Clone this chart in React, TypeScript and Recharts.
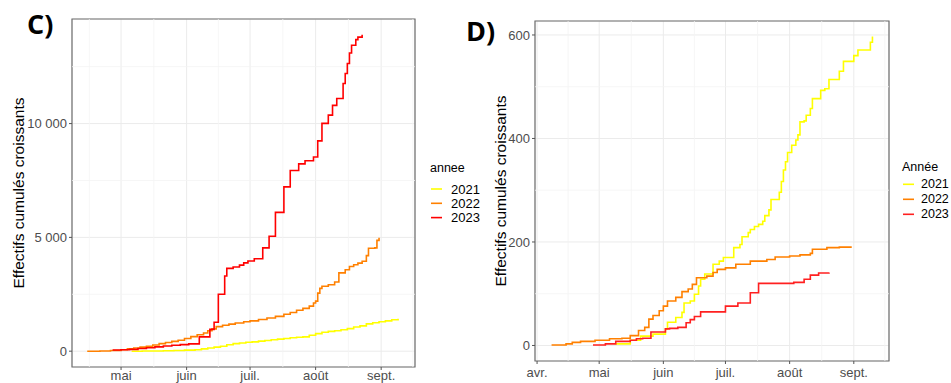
import React from "react";
import {
  LineChart,
  Line,
  XAxis,
  YAxis,
  CartesianGrid,
  ReferenceLine,
  ReferenceArea,
  Label,
} from "recharts";

// days counted from 1 April
const monthTicks = [0, 30, 61, 91, 122, 153];
const monthLabels = ["avr.", "mai", "juin", "juil.", "août", "sept."];
const monthMinor = [15, 45.5, 76, 106.5, 137.5, 168];

const years = ["2021", "2022", "2023"];
const yearColorsC = ["#FFFF00", "#FF8000", "#FF0000"];
const yearColorsD = ["#FFFF00", "#FF8000", "#FF2020"];

// panel C
const c2021Days = [35, 40, 45, 50, 55, 60, 65, 68, 71, 74, 77, 80, 83, 86, 89, 92, 95, 98, 101, 104, 107, 110, 113, 116, 119, 122, 125, 128, 131, 134, 137, 140, 143, 146, 149, 152, 155, 158, 161];
const c2021Counts = [0, 5, 10, 20, 30, 45, 65, 100, 140, 180, 220, 280, 330, 360, 390, 410, 440, 470, 500, 530, 560, 590, 610, 630, 700, 770, 830, 870, 900, 940, 990, 1060, 1110, 1200, 1250, 1290, 1330, 1380, 1430];

const c2022Days = [14, 20, 25, 30, 33, 36, 39, 42, 45, 48, 51, 54, 57, 60, 63, 66, 69, 71, 73, 75, 78, 81, 84, 88, 91, 95, 99, 103, 107, 110, 113, 116, 119, 121, 122, 123, 124, 125, 128, 131, 133, 136, 138, 140, 142, 144, 146, 147, 150, 151, 152];
const c2022Counts = [0, 10, 30, 60, 100, 140, 180, 220, 270, 330, 380, 430, 480, 560, 640, 720, 800, 900, 980, 1080, 1140, 1190, 1240, 1290, 1330, 1390, 1460, 1530, 1620, 1700, 1800, 1880, 1980, 2120, 2200, 2550, 2760, 2850, 2920, 3040, 3440, 3580, 3720, 3800, 3870, 3950, 4200, 4520, 4540, 4870, 4980];

const c2023Days = [26, 30, 34, 38, 42, 46, 50, 54, 58, 62, 67, 72, 74, 76, 79, 80, 83, 86, 88, 90, 93, 97, 100, 103, 107, 110, 114, 117, 121, 123, 125, 128, 130, 132, 135, 136, 137, 138, 139, 141, 142, 144];
const c2023Counts = [50, 60, 80, 120, 150, 190, 230, 260, 290, 320, 630, 960, 1270, 2500, 3300, 3640, 3700, 3780, 3880, 3960, 4060, 4540, 5050, 6100, 7220, 7940, 8230, 8370, 8530, 9240, 10010, 10370, 10800, 11100, 11760, 12200, 12640, 13100, 13440, 13690, 13800, 13900];

// panel D
const d2021Days = [38, 45, 50, 56, 62, 63, 67, 70, 71, 74, 76, 78, 79, 81, 85, 88, 90, 95, 98, 99, 102, 103, 105, 107, 109, 110, 112, 113, 117, 118, 119, 120, 121, 123, 125, 126, 127, 129, 130, 132, 133, 137, 139, 141, 146, 148, 153, 155, 161, 162];
const d2021Counts = [3, 10, 18, 22, 32, 45, 54, 64, 82, 86, 99, 115, 128, 138, 157, 163, 170, 189, 195, 210, 218, 224, 230, 234, 240, 251, 262, 282, 296, 317, 339, 355, 373, 387, 397, 407, 432, 434, 445, 458, 477, 493, 496, 514, 530, 549, 560, 571, 586, 597];

const d2022Days = [7, 14, 17, 21, 28, 35, 41, 45, 49, 52, 54, 56, 59, 61, 63, 67, 70, 73, 75, 77, 82, 85, 87, 91, 96, 103, 111, 115, 122, 127, 132, 133, 140, 146, 152];
const d2022Counts = [1, 3, 6, 8, 10, 13, 14, 19, 29, 35, 51, 58, 67, 76, 86, 93, 104, 109, 118, 131, 134, 141, 147, 150, 157, 163, 166, 171, 173, 175, 178, 186, 189, 190, 190];

const d2023Days = [27, 33, 38, 45, 48, 51, 55, 62, 64, 68, 72, 74, 76, 79, 91, 97, 103, 107, 124, 129, 132, 136, 141];
const d2023Counts = [1, 3, 8, 10, 13, 14, 26, 32, 33, 35, 44, 50, 56, 65, 76, 82, 102, 120, 122, 128, 136, 140, 141];

const toRows = (days: number[], counts: number[]) =>
  days.map((d, i) => ({ d, v: counts[i] }));

const panelC = [
  toRows(c2021Days, c2021Counts),
  toRows(c2022Days, c2022Counts),
  toRows(c2023Days, c2023Counts),
];
const panelD = [
  toRows(d2021Days, d2021Counts),
  toRows(d2022Days, d2022Counts),
  toRows(d2023Days, d2023Counts),
];

const FONT = "'Liberation Sans', Arial, sans-serif";
const TICK = { fill: "#4D4D4D", fontSize: 13, fontFamily: FONT };

const monthName = (v: number) => monthLabels[monthTicks.indexOf(v)] ?? "";
const spaced = (v: number) =>
  String(v).replace(/\B(?=(\d{3})+(?!\d))/g, " ");

interface PanelProps {
  series: { d: number; v: number }[][];
  colors: string[];
  width: number;
  height: number;
  margin: { top: number; right: number; left: number; bottom: number };
  xDomain: [number, number];
  yDomain: [number, number];
  yTicks: number[];
  yMinor: number[];
  yAxisWidth: number;
  xAxisHeight: number;
  titleOffset: number;
  tickGap: number;
}

function Panel(p: PanelProps) {
  const xTicks = monthTicks.filter((t) => t >= p.xDomain[0] && t <= p.xDomain[1]);
  const xMinor = monthMinor.filter((t) => t >= p.xDomain[0] && t <= p.xDomain[1]);
  return (
    <LineChart width={p.width} height={p.height} margin={p.margin}>
      <CartesianGrid stroke="#EBEBEB" strokeWidth={1} />
      {xMinor.map((x) => (
        <ReferenceLine key={"vx" + x} x={x} stroke="#F4F4F4" strokeWidth={0.8} />
      ))}
      {p.yMinor.map((y) => (
        <ReferenceLine key={"hy" + y} y={y} stroke="#F4F4F4" strokeWidth={0.8} />
      ))}
      <XAxis
        type="number"
        dataKey="d"
        domain={p.xDomain}
        allowDataOverflow
        ticks={xTicks}
        interval={0}
        tickFormatter={monthName}
        tick={TICK}
        tickSize={3}
        tickMargin={p.tickGap}
        tickLine={{ stroke: "#555" }}
        axisLine={false}
        height={p.xAxisHeight}
      />
      <YAxis
        type="number"
        domain={p.yDomain}
        allowDataOverflow
        ticks={p.yTicks}
        interval={0}
        tickFormatter={spaced}
        tick={TICK}
        tickSize={3}
        tickMargin={2}
        tickLine={{ stroke: "#555" }}
        axisLine={false}
        width={p.yAxisWidth}
      >
        <Label
          value="Effectifs cumulés croissants"
          angle={-90}
          position="insideLeft"
          offset={p.titleOffset}
          style={{ textAnchor: "middle", fill: "#000", fontSize: 15.5, fontFamily: FONT }}
        />
      </YAxis>
      <ReferenceArea
        x1={p.xDomain[0]}
        x2={p.xDomain[1]}
        y1={p.yDomain[0]}
        y2={p.yDomain[1]}
        fill="none"
        stroke="#6E6E6E"
        strokeWidth={1.2}
      />
      {p.series.map((rows, i) => (
        <Line
          key={years[i]}
          data={rows}
          dataKey="v"
          type="stepAfter"
          stroke={p.colors[i]}
          strokeWidth={1.6}
          dot={false}
          activeDot={false}
          isAnimationActive={false}
        />
      ))}
    </LineChart>
  );
}

function YearLegend({
  title,
  x,
  titleY,
  firstY,
  rowH,
  keyW,
  textX,
  fontSize,
  colors,
}: {
  title: string;
  x: number;
  titleY: number;
  firstY: number;
  rowH: number;
  keyW: number;
  textX: number;
  fontSize: number;
  colors: string[];
}) {
  return (
    <g fontFamily={FONT}>
      <text x={x} y={titleY} fontSize={12.5} dominantBaseline="central" fill="#000">
        {title}
      </text>
      {years.map((yr, i) => (
        <g key={yr}>
          <line
            x1={x + 1}
            x2={x + 1 + keyW}
            y1={firstY + i * rowH}
            y2={firstY + i * rowH}
            stroke={colors[i]}
            strokeWidth={1.6}
          />
          <text
            x={textX}
            y={firstY + i * rowH}
            fontSize={fontSize}
            dominantBaseline="central"
            fill="#000"
          >
            {yr}
          </text>
        </g>
      ))}
    </g>
  );
}

export default function App() {
  return (
    <div
      style={{
        position: "absolute",
        left: 0,
        top: 0,
        width: 951,
        height: 383,
        overflow: "hidden",
        background: "#fff",
      }}
    >
      <div style={{ position: "absolute", left: 0, top: 0 }}>
        <Panel
          series={panelC}
          colors={yearColorsC}
          width={480}
          height={383}
          margin={{ top: 19, right: 65, left: 0, bottom: 0 }}
          xDomain={[6.8, 169]}
          yDomain={[-695, 14595]}
          yTicks={[0, 5000, 10000]}
          yMinor={[2500, 7500, 12500]}
          yAxisWidth={72}
          xAxisHeight={16}
          titleOffset={18}
          tickGap={0.8}
        />
      </div>
      <div style={{ position: "absolute", left: 480, top: 0 }}>
        <Panel
          series={panelD}
          colors={yearColorsD}
          width={471}
          height={383}
          margin={{ top: 21, right: 62, left: 0, bottom: 0 }}
          xDomain={[-1, 170]}
          yDomain={[-30, 627]}
          yTicks={[0, 200, 400, 600]}
          yMinor={[100, 300, 500]}
          yAxisWidth={55}
          xAxisHeight={22}
          titleOffset={20.5}
          tickGap={3.5}
        />
      </div>
      <svg
        width={951}
        height={383}
        style={{ position: "absolute", left: 0, top: 0, pointerEvents: "none" }}
      >
        <text
          x={27}
          y={34}
          fontSize={27}
          fontWeight="bold"
          fontFamily="'Liberation Sans Narrow', 'Open Sans', sans-serif"
        >
          C)
        </text>
        <text
          x={466}
          y={41}
          fontSize={27}
          fontWeight="bold"
          fontFamily="'Liberation Sans Narrow', 'Open Sans', sans-serif"
        >
          D)
        </text>
        <YearLegend
          title="annee"
          x={430}
          titleY={168}
          firstY={189}
          rowH={14.3}
          keyW={11}
          textX={451}
          fontSize={13}
          colors={yearColorsC}
        />
        <YearLegend
          title="Année"
          x={902}
          titleY={166.7}
          firstY={184.3}
          rowH={15}
          keyW={11}
          textX={921}
          fontSize={12.5}
          colors={yearColorsD}
        />
      </svg>
    </div>
  );
}
